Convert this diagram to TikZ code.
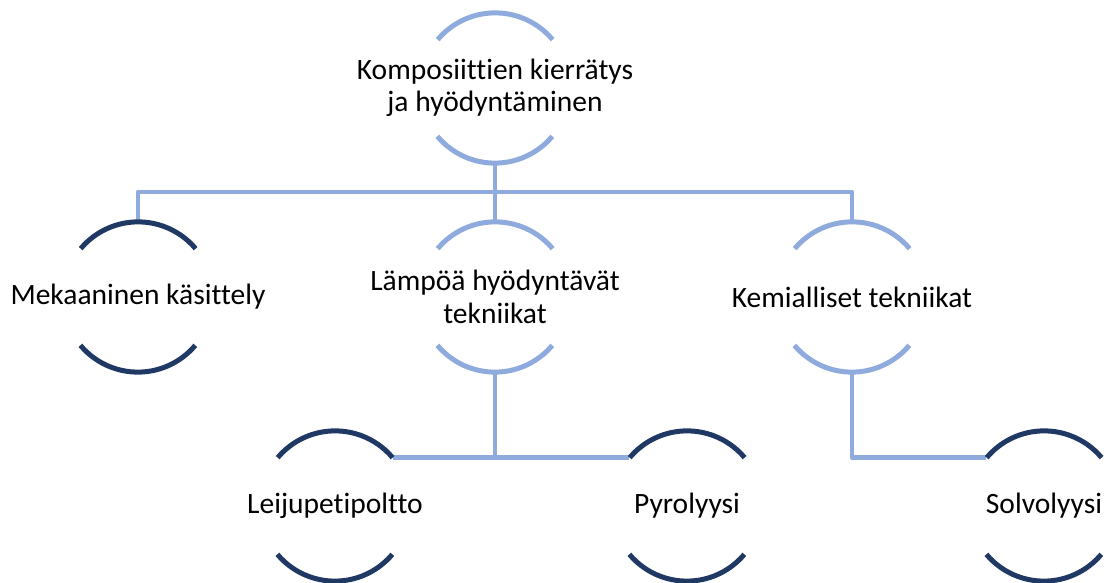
\documentclass[tikz,border=0pt]{standalone}
\usepackage{fontspec}
\setmainfont{Carlito}[Ligatures={NoCommon,NoRequired,NoContextual}]
\definecolor{lightblue}{HTML}{8FAADC}
\definecolor{darkblue}{HTML}{203864}
\tikzset{
  hnode/.style={circle, minimum size=150pt, inner sep=0pt, draw=none},
  lbl/.style={label={[align=center, font=\fontsize{29.5}{32.5}\selectfont, text=black]center:#1}},
  arcline/.style={line width=5pt},
  conn/.style={line width=4.5pt, draw=lightblue, line join=round},
}
\newcommand{\arcpair}[2]{%
  \draw[arcline, draw=#2] (#1.40) arc[start angle=40, end angle=140, radius=75pt];
  \draw[arcline, draw=#2] (#1.220) arc[start angle=220, end angle=320, radius=75pt];
}
\begin{document}
\begin{tikzpicture}[x=1pt,y=1pt]
\useasboundingbox (0,0) rectangle (1111,583);
\node[hnode, lbl={Komposiittien kierrätys\\ja hyödyntäminen}] (top) at (495,495) {};
\node[hnode, lbl={Mekaaninen käsittely}] (mek) at (138,286) {};
\node[hnode, lbl={Lämpöä hyödyntävät\\tekniikat}] (lam) at (495,286) {};
\node[hnode, lbl={Kemialliset tekniikat}] (kem) at (852,286) {};
\node[hnode, lbl={Leijupetipoltto}] (lei) at (335,77) {};
\node[hnode, lbl={Pyrolyysi}] (pyr) at (687,77) {};
\node[hnode, lbl={Solvolyysi}] (sol) at (1044,77) {};
\coordinate (bus) at (495,391);
% connectors
\draw[conn] (top.south) -- (bus);
\draw[conn] (mek.north) -- (mek.north |- bus) -- (kem.north |- bus) -- (kem.north);
\draw[conn] (bus) -- (lam.north);
\draw[conn] (lam.south) -- (lam.south |- lei.40);
\draw[conn] (lei.40) -- (pyr.140);
\draw[conn] (kem.south) |- (sol.140);
% arcs
\arcpair{top}{lightblue}
\arcpair{lam}{lightblue}
\arcpair{kem}{lightblue}
\arcpair{mek}{darkblue}
\arcpair{lei}{darkblue}
\arcpair{pyr}{darkblue}
\arcpair{sol}{darkblue}
\end{tikzpicture}
\end{document}
